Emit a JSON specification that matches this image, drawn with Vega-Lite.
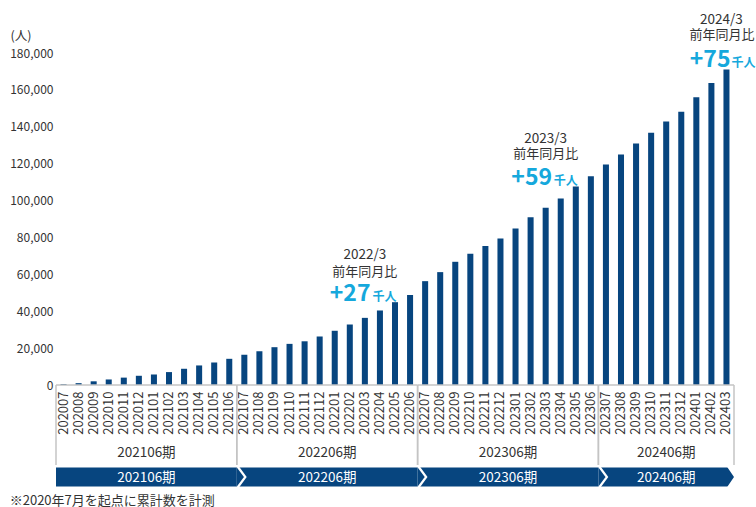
{
  "$schema": "https://vega.github.io/schema/vega-lite/v6.json",
  "padding": {"left": 9, "top": 13, "right": 0, "bottom": 0},
  "background": "white",
  "spacing": 0,
  "bounds": "flush",
  "title": {"text": "※2020年7月を起点に累計数を計測", "orient": "bottom", "anchor": "start", "frame": "bounds", "fontSize": 13, "fontWeight": "normal", "color": "#333333", "offset": 3},
  "datasets": {
    "months": [
      {"month": "202007", "value": 500}, {"month": "202008", "value": 1000}, {"month": "202009", "value": 2000},
      {"month": "202010", "value": 3000}, {"month": "202011", "value": 4000}, {"month": "202012", "value": 5000},
      {"month": "202101", "value": 5700}, {"month": "202102", "value": 7000}, {"month": "202103", "value": 8800},
      {"month": "202104", "value": 10600}, {"month": "202105", "value": 12200}, {"month": "202106", "value": 14200},
      {"month": "202107", "value": 16400}, {"month": "202108", "value": 18300}, {"month": "202109", "value": 20500},
      {"month": "202110", "value": 22300}, {"month": "202111", "value": 23700}, {"month": "202112", "value": 26300},
      {"month": "202201", "value": 29400}, {"month": "202202", "value": 32800}, {"month": "202203", "value": 36400},
      {"month": "202204", "value": 40400}, {"month": "202205", "value": 44900}, {"month": "202206", "value": 48800},
      {"month": "202207", "value": 56300}, {"month": "202208", "value": 61200}, {"month": "202209", "value": 66800},
      {"month": "202210", "value": 71100}, {"month": "202211", "value": 75300}, {"month": "202212", "value": 79400},
      {"month": "202301", "value": 84900}, {"month": "202302", "value": 91000}, {"month": "202303", "value": 96100},
      {"month": "202304", "value": 101100}, {"month": "202305", "value": 107600}, {"month": "202306", "value": 113200},
      {"month": "202307", "value": 119600}, {"month": "202308", "value": 125000}, {"month": "202309", "value": 130900},
      {"month": "202310", "value": 136700}, {"month": "202311", "value": 142900}, {"month": "202312", "value": 148100},
      {"month": "202401", "value": 156000}, {"month": "202402", "value": 163800}, {"month": "202403", "value": 171000}
    ],
    "notes": [
      {"month": "202203", "value": 36400, "period": "2022/3", "diff": "+27"},
      {"month": "202303", "value": 96100, "period": "2023/3", "diff": "+59"},
      {"month": "202403", "value": 171000, "period": "2024/3", "diff": "+75"}
    ],
    "fy": [
      {"fy": "202106期", "start": "202007", "end": "202106", "mid": "202101"},
      {"fy": "202206期", "start": "202107", "end": "202206", "mid": "202201"},
      {"fy": "202306期", "start": "202207", "end": "202306", "mid": "202301"},
      {"fy": "202406期", "start": "202307", "end": "202403", "mid": "202311"}
    ]
  },
  "resolve": {"scale": {"x": "independent"}},
  "vconcat": [
    {
      "width": 678,
      "height": 332,
      "encoding": {
        "x": {"field": "month", "type": "ordinal", "axis": null, "scale": {"paddingInner": 0.6, "paddingOuter": 0.3}},
        "y": {
          "field": "value", "type": "quantitative",
          "scale": {"domain": [0, 180000], "nice": false},
          "axis": {
            "title": "(人)", "titleAngle": 0, "titleAlign": "left", "titleBaseline": "middle",
            "titleX": -46, "titleY": -17.5, "titleFontSize": 12.5, "titleFontWeight": "normal", "titleColor": "#333333",
            "values": [0, 20000, 40000, 60000, 80000, 100000, 120000, 140000, 160000, 180000],
            "format": ",.0f", "labelOverlap": false, "grid": false, "ticks": false, "domain": false,
            "labelFontSize": 12, "labelColor": "#333333", "labelPadding": 3
          }
        }
      },
      "layer": [
        {
          "data": {"name": "months"},
          "mark": {"type": "bar", "color": "#07457f"}
        },
        {
          "data": {"name": "notes"},
          "transform": [{"filter": "datum.period == '2022/3'"}],
          "layer": [
            {"mark": {"type": "text", "dy": -62.5, "fontSize": 13.5, "color": "#333333", "baseline": "middle"}, "encoding": {"text": {"field": "period"}}},
            {"mark": {"type": "text", "dy": -46, "fontSize": 13, "color": "#333333", "baseline": "middle", "text": "前年同月比"}},
            {"mark": {"type": "text", "dy": -17, "dx": 5.6, "align": "right", "baseline": "alphabetic", "fontSize": 23, "fontWeight": "bold", "color": "#15a8dc"}, "encoding": {"text": {"field": "diff"}}},
            {"mark": {"type": "text", "dy": -17, "dx": 7.6, "align": "left", "baseline": "alphabetic", "fontSize": 12, "fontWeight": "bold", "color": "#15a8dc", "text": "千人"}}
          ]
        },
        {
          "data": {"name": "notes"},
          "transform": [{"filter": "datum.period == '2023/3'"}],
          "layer": [
            {"mark": {"type": "text", "dy": -69, "fontSize": 13.5, "color": "#333333", "baseline": "middle"}, "encoding": {"text": {"field": "period"}}},
            {"mark": {"type": "text", "dy": -53.5, "fontSize": 13, "color": "#333333", "baseline": "middle", "text": "前年同月比"}},
            {"mark": {"type": "text", "dy": -22.8, "dx": 6.4, "align": "right", "baseline": "alphabetic", "fontSize": 23, "fontWeight": "bold", "color": "#15a8dc"}, "encoding": {"text": {"field": "diff"}}},
            {"mark": {"type": "text", "dy": -22.8, "dx": 8, "align": "left", "baseline": "alphabetic", "fontSize": 12, "fontWeight": "bold", "color": "#15a8dc", "text": "千人"}}
          ]
        },
        {
          "data": {"name": "notes"},
          "transform": [{"filter": "datum.period == '2024/3'"}],
          "layer": [
            {"mark": {"type": "text", "dy": -49.5, "dx": -5, "fontSize": 13.5, "color": "#333333", "baseline": "middle"}, "encoding": {"text": {"field": "period"}}},
            {"mark": {"type": "text", "dy": -34.5, "dx": -4.5, "fontSize": 13, "color": "#333333", "baseline": "middle", "text": "前年同月比"}},
            {"mark": {"type": "text", "dy": -3.1, "dx": 4, "align": "right", "baseline": "alphabetic", "fontSize": 23, "fontWeight": "bold", "color": "#15a8dc"}, "encoding": {"text": {"field": "diff"}}},
            {"mark": {"type": "text", "dy": -3.1, "dx": 5, "align": "left", "baseline": "alphabetic", "fontSize": 12, "fontWeight": "bold", "color": "#15a8dc", "text": "千人"}}
          ]
        }
      ]
    },
    {
      "width": 678,
      "height": 92,
      "layer": [
        {
          "data": {"name": "months"},
          "mark": {"type": "text", "angle": 270, "align": "right", "baseline": "middle", "dx": -6.5, "fontSize": 13, "color": "#333333"},
          "encoding": {
            "x": {"field": "month", "type": "ordinal", "axis": null, "scale": {"paddingInner": 0, "paddingOuter": 0}},
            "y": {"datum": "月", "type": "nominal", "axis": null, "scale": {"type": "point", "domain": ["月", "期", "帯"], "padding": 0}},
            "text": {"field": "month"}
          }
        },
        {
          "data": {"name": "fy"},
          "mark": {"type": "rule", "color": "#c4c4c4", "strokeWidth": 1.5},
          "encoding": {
            "x": {"field": "start", "type": "ordinal", "axis": null, "bandPosition": 0},
            "x2": {"field": "end", "bandPosition": 1},
            "y": {"datum": "月", "type": "nominal", "axis": null}
          }
        },
        {
          "data": {"name": "fy"},
          "mark": {"type": "rule", "color": "#c4c4c4", "strokeWidth": 1.5, "y2Offset": 34},
          "encoding": {
            "x": {"field": "start", "type": "ordinal", "axis": null, "bandPosition": 0},
            "y": {"datum": "月", "type": "nominal", "axis": null},
            "y2": {"datum": "期"}
          }
        },
        {
          "data": {"name": "fy"},
          "mark": {"type": "rule", "color": "#c4c4c4", "strokeWidth": 1.5, "y2Offset": 34},
          "encoding": {
            "x": {"field": "end", "type": "ordinal", "axis": null, "bandPosition": 1},
            "y": {"datum": "月", "type": "nominal", "axis": null},
            "y2": {"datum": "期"}
          }
        },
        {
          "data": {"name": "fy"},
          "mark": {"type": "rect", "color": "#07457f", "yOffset": -9.5, "y2Offset": 9.5},
          "encoding": {
            "x": {"field": "start", "type": "ordinal", "axis": null, "bandPosition": 0},
            "x2": {"field": "end", "bandPosition": 1},
            "y": {"datum": "帯", "type": "nominal", "axis": null},
            "y2": {"datum": "帯"}
          }
        },
        {
          "data": {"name": "fy"},
          "transform": [{"filter": "datum.fy != '202106期'"}],
          "mark": {"type": "point", "shape": "M0.1,-1.08L0.9,0L0.1,1.08", "size": 361, "filled": false, "stroke": "white", "strokeWidth": 2.2, "opacity": 1},
          "encoding": {
            "x": {"field": "start", "type": "ordinal", "axis": null, "bandPosition": 0},
            "y": {"datum": "帯", "type": "nominal", "axis": null}
          }
        },
        {
          "data": {"name": "fy"},
          "transform": [{"filter": "datum.fy == '202406期'"}],
          "mark": {"type": "point", "shape": "M-0.68,-1L0.05,-1L0.05,0L0,0Z M-0.68,1L0.05,1L0.05,0L0,0Z", "size": 400, "filled": true, "color": "white", "strokeWidth": 0, "opacity": 1},
          "encoding": {
            "x": {"field": "end", "type": "ordinal", "axis": null, "bandPosition": 1},
            "y": {"datum": "帯", "type": "nominal", "axis": null}
          }
        },
        {
          "data": {"name": "fy"},
          "transform": [{"filter": "datum.fy != '202406期'"}],
          "encoding": {
            "x": {"field": "mid", "type": "ordinal", "axis": null, "bandPosition": 0},
            "text": {"field": "fy"}
          },
          "layer": [
            {"mark": {"type": "text", "fontSize": 13.5, "color": "#333333", "baseline": "middle", "dy": 22},
             "encoding": {"y": {"datum": "期", "type": "nominal", "axis": null}}},
            {"mark": {"type": "text", "fontSize": 13.5, "color": "white", "baseline": "middle", "dy": 0.5},
             "encoding": {"y": {"datum": "帯", "type": "nominal", "axis": null}}}
          ]
        },
        {
          "data": {"name": "fy"},
          "transform": [{"filter": "datum.fy == '202406期'"}],
          "encoding": {
            "x": {"field": "mid", "type": "ordinal", "axis": null, "bandPosition": 0.5},
            "text": {"field": "fy"}
          },
          "layer": [
            {"mark": {"type": "text", "fontSize": 13.5, "color": "#333333", "baseline": "middle", "dy": 22},
             "encoding": {"y": {"datum": "期", "type": "nominal", "axis": null}}},
            {"mark": {"type": "text", "fontSize": 13.5, "color": "white", "baseline": "middle", "dy": 0.5},
             "encoding": {"y": {"datum": "帯", "type": "nominal", "axis": null}}}
          ]
        }
      ]
    }
  ],
  "config": {
    "font": "Noto Sans CJK JP",
    "view": {"stroke": null}
  }
}
